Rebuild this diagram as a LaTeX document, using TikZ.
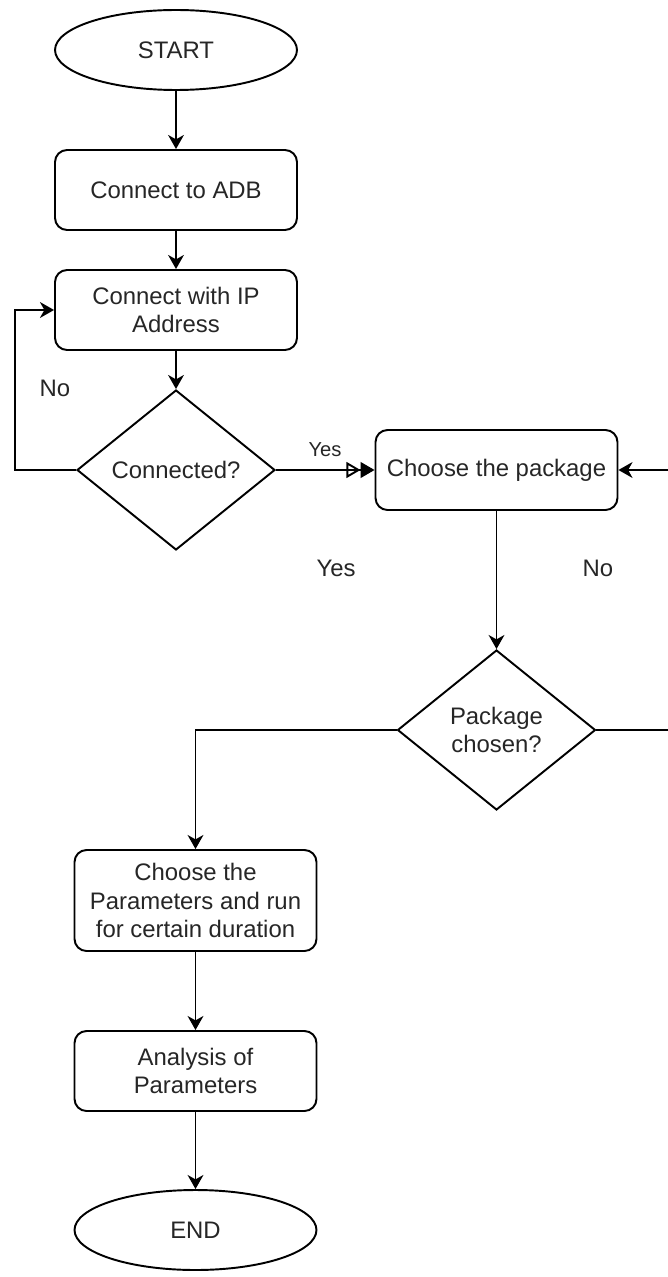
\documentclass[tikz,border=0pt]{standalone}
\usepackage{fontspec}
\setmainfont{Liberation Sans}
\usepackage{tikz}
\usetikzlibrary{shapes.geometric,arrows.meta}

\begin{document}
\begin{tikzpicture}[
  x=0.02cm, y=-0.02cm,
  every node/.style={font=\fontsize{13.6pt}{16.4pt}\selectfont, text=black!85},
  terminal/.style={draw, ellipse, line width=1.1pt, minimum width=4.84cm, minimum height=1.6cm, inner sep=0pt},
  proc/.style={draw, rectangle, rounded corners=0.24cm, line width=1.1pt, minimum width=4.84cm, minimum height=1.6cm, align=center, inner sep=2pt},
  decide/.style={draw, diamond, line width=1.1pt, minimum width=3.96cm, minimum height=3.2cm, inner sep=0pt, align=center},
  arr/.style={draw, line width=1.1pt, -{Stealth[length=8pt,width=9pt,inset=2.5pt]}},
  lbl/.style={inner sep=0pt}]
  \useasboundingbox (0,0) rectangle (667,1277);
  % main column
  \node[terminal] (start) at (176,50) {START};
  \node[proc] (adb) at (176,190) {Connect to ADB};
  \node[proc] (ip) at (176,310) {Connect with IP\\Address};
  \node[decide] (conn) at (176,470) {Connected?};
  \node[proc] (pkg) at (496.5,470) {Choose the package};
  \node[decide] (chosen) at (496.5,730) {Package\\chosen?};
  \node[proc, minimum height=2.02cm] (params) at (195.5,900.5) {Choose the\\Parameters and run\\for certain duration};
  \node[proc] (anal) at (195.5,1071) {Analysis of\\Parameters};
  \node[terminal] (end) at (195.5,1230) {END};
  % labels
  \node[lbl] (no1) at (55,388) {No};
  \node[lbl, font=\fontsize{11.5pt}{14pt}\selectfont] (yes1) at (325,450) {Yes};
  \node[lbl] (yes2) at (336,568) {Yes};
  \node[lbl] (no2) at (598,568) {No};
  % loop corners
  \coordinate (loopl) at (15,390);
  \coordinate (loopr) at (680,600);
  % edges
  \draw[arr] (start) -- (adb);
  \draw[arr] (adb) -- (ip);
  \draw[arr] (ip) -- (conn);
  \draw[arr] (conn.west) -| (loopl) |- (ip.west);
  \draw[line width=1.1pt, -{Triangle[open,length=8pt,width=9pt]Triangle[length=8pt,width=9pt]}] (conn.east) -- (pkg.west);
  \draw[arr] (pkg) -- (chosen);
  \draw[arr] (chosen.west) -| (params.north);
  \draw[arr] (chosen.east) -| (loopr) |- (pkg.east);
  \draw[arr] (params) -- (anal);
  \draw[arr] (anal) -- (end);
\end{tikzpicture}
\end{document}
